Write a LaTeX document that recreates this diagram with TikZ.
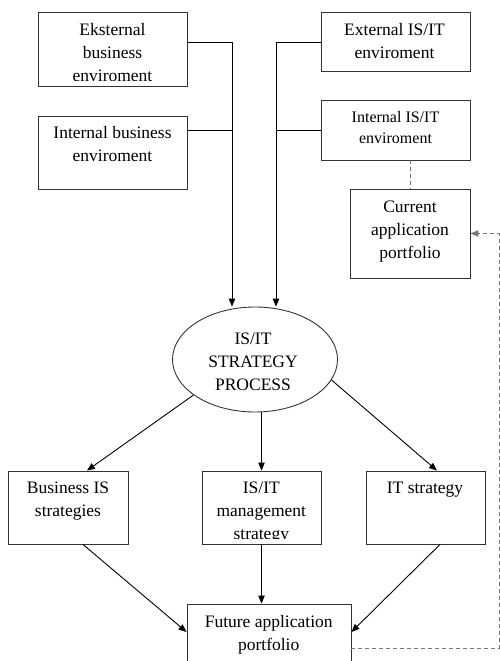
\documentclass[tikz,border=0pt]{standalone}
\usepackage{fontspec}
\setmainfont{Liberation Serif}
\usetikzlibrary{shapes.geometric,arrows.meta,calc}
\definecolor{edge}{HTML}{333333}
\definecolor{dash}{HTML}{777777}
\tikzset{
  box/.style={draw=edge, line width=0.9pt, rectangle, inner sep=0pt},
  txt/.style={inner sep=0pt, align=center, anchor=north, font=\fontsize{17.5}{23}\selectfont},
  txtsmall/.style={inner sep=0pt, align=center, anchor=north, font=\fontsize{16}{21}\selectfont},
  conn/.style={draw=black, line width=0.9pt},
  arr/.style={conn, -{Triangle[length=8pt,width=6.5pt]}},
  dashconn/.style={draw=dash, line width=1pt, dash pattern=on 4pt off 3pt},
}
\begin{document}
\begin{tikzpicture}[x=1pt,y=-1pt]
\useasboundingbox (0,0) rectangle (500,661);
% boxes
\node[box, minimum width=149pt, minimum height=74pt] (b1) at (112.5,49) {};
\node[box, minimum width=149pt, minimum height=73pt] (b2) at (112.5,152.5) {};
\node[box, minimum width=149pt, minimum height=59pt] (b3) at (395.5,41.5) {};
\node[box, minimum width=149pt, minimum height=60pt] (b4) at (395.5,130) {};
\node[box, minimum width=120pt, minimum height=89pt] (b5) at (410,233.5) {};
\node[draw=edge, line width=0.9pt, ellipse, inner sep=0pt, minimum width=165pt, minimum height=105pt] (ell) at (255,359.5) {};
\node[box, minimum width=120pt, minimum height=73pt] (s1) at (68,507.5) {};
\node[box, minimum width=119pt, minimum height=73pt] (s2) at (261.5,507.5) {};
\node[box, minimum width=119pt, minimum height=73pt] (s3) at (425.5,507.5) {};
\node[box, minimum width=164pt, minimum height=76pt] (fut) at (269,642) {};
% texts
\begin{scope}
\clip (b1.north west) rectangle ($(b1.south east)+(0,-5.5)$);
\node[txt] (t1) at (112.5,18.9) {\strut Eksternal\\business\\enviroment};
\end{scope}
\node[txt] (t2) at (112.5,121.9) {\strut Internal business\\enviroment};
\node[txt] (t3) at (394.5,18.9) {\strut External IS/IT\\enviroment};
\node[txtsmall] (t4) at (395.5,107.3) {\strut Internal IS/IT\\enviroment};
\node[txt] (t5) at (410,195.9) {\strut Current\\application\\portfolio};
\node[txt] (te) at (253,327.9) {\strut IS/IT\\STRATEGY\\PROCESS};
\node[txt] (ts1) at (68,476.9) {\strut Business IS\\strategies};
\begin{scope}
\clip (s2.north west) rectangle ($(s2.south east)+(0,-5.5)$);
\node[txt] (ts2) at (261.3,476.9) {\strut IS/IT\\management\\strategy};
\end{scope}
\node[txt] (ts3) at (425,476.9) {\strut IT strategy};
\node[txt] (tf) at (268.7,610.9) {\strut Future application\\portfolio};
% junction coordinates
\coordinate (cL1) at (232,42);
\coordinate (cL2) at (232,130);
\coordinate (cR1) at (276,42);
\coordinate (cR2) at (276,130);
\coordinate (cF) at (499,648);
% input connectors
\draw[arr] (b1.east |- cL1) -- (cL1) -- (cL1 |- ell.north);
\draw[conn] (b2.east |- cL2) -- (cL2);
\draw[arr] (b3.west |- cR1) -- (cR1) -- (cR1 |- ell.north);
\draw[conn] (b4.west |- cR2) -- (cR2);
% dashed links
\draw[dashconn] (b5.north |- b4.south) -- (b5.north);
\draw[dashconn, -{Triangle[length=8pt,width=6.5pt]}] (fut.east |- cF) -- (cF) -- (cF |- b5.east) -- (b5.east);
% strategy process outputs
\draw[arr] (ell.210) -- ($(s1.north)+(19,0)$);
\draw[arr] (ell.south -| s2.north) -- (s2.north);
\draw[arr] (ell.345) -- ($(s3.north)+(11.5,0)$);
% to future portfolio
\draw[arr] ($(s1.south)+(15,0)$) -- ($(fut.west)+(0,-10)$);
\draw[arr] (s2.south) -- (s2.south |- fut.north);
\draw[arr] ($(s3.south)+(14.5,0)$) -- ($(fut.east)+(0,-10)$);
\end{tikzpicture}
\end{document}
